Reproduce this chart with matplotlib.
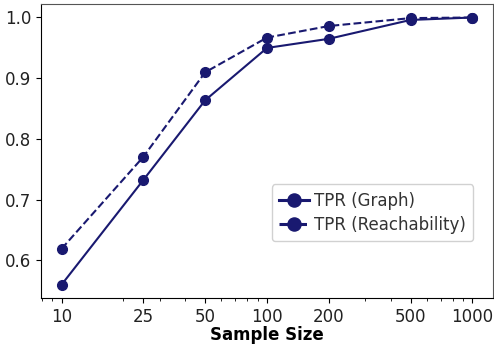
import numpy as np
import matplotlib
matplotlib.use("Agg")
import matplotlib.pyplot as plt

sample_sizes = [10, 25, 50, 100, 200, 500, 1000]
tpr_graph = [0.560, 0.732, 0.863, 0.949, 0.964, 0.995, 0.999]
tpr_reach = [0.619, 0.770, 0.909, 0.966, 0.985, 0.998, 0.999]
tick_labels = ["10", "25", "50", "100", "200", "500", "1000"]

COL = "#191970"

fig, ax = plt.subplots(figsize=(4.94, 3.45), dpi=100)
ax.plot(sample_sizes, tpr_graph, "-o", color=COL, lw=1.5, ms=7, label="TPR (Graph)")
ax.plot(sample_sizes, tpr_reach, "--o", color=COL, lw=1.5, ms=7, label="TPR (Reachability)")
ax.set_xscale("log")
ax.set_xticks(sample_sizes)
ax.set_xticklabels(tick_labels)
ax.set_yticks([0.6, 0.7, 0.8, 0.9, 1.0])
ax.tick_params(labelsize=12, labelcolor="#222222")
ax.set_xlabel("Sample Size", fontsize=12, fontweight="bold", labelpad=0)
for s in ("top", "right"):
    ax.spines[s].set_color("#555555")
leg = ax.legend(fontsize=12, loc="lower right", bbox_to_anchor=(0.975, 0.165),
                markerscale=1.35, handlelength=1.8, handletextpad=0.3, borderpad=0.45,
                labelspacing=0.35, framealpha=0.9, edgecolor="#cccccc", labelcolor="#333333")
for h in leg.get_lines():
    h.set_linewidth(2.2)
fig.subplots_adjust(left=0.083, right=0.998, top=0.988, bottom=0.136)
fig.savefig("out.png", dpi=100)
